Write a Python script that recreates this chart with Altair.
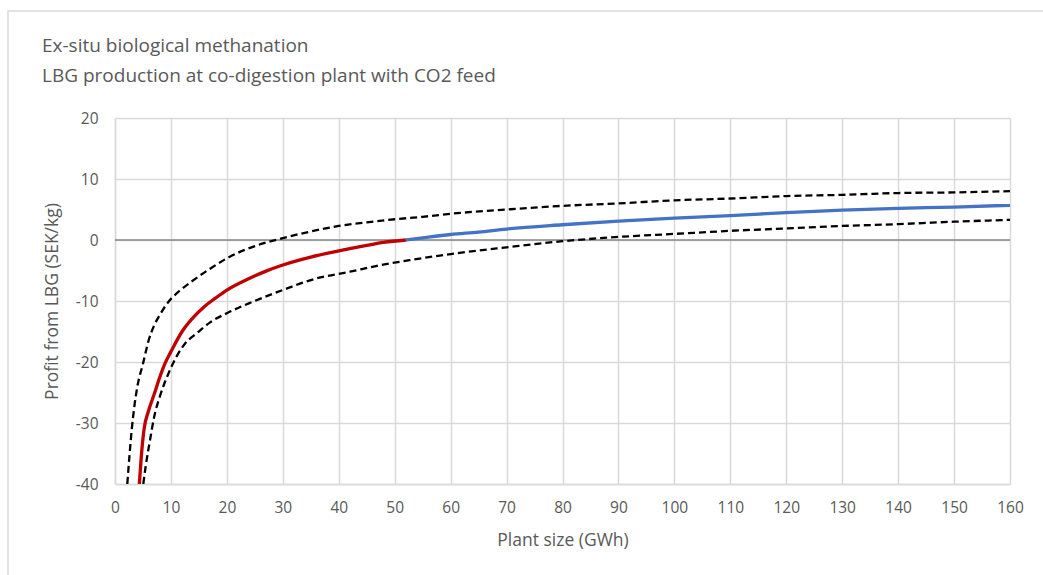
import altair as alt
import pandas as pd

# Upper dashed bound
upper_x = [2.2, 3, 3.5, 4, 5, 6, 7, 8, 9.5, 12, 14, 17, 20, 25, 30, 35, 40, 45, 50, 55, 60, 70, 80, 90, 100, 110, 120, 130, 140, 150, 160]
upper_y = [-40, -31, -27, -24, -20.3, -16.5, -14, -12.3, -10.2, -8, -6.6, -4.7, -3.0, -1.0, 0.3, 1.4, 2.3, 2.9, 3.4, 3.8, 4.3, 5.0, 5.6, 6.0, 6.5, 6.8, 7.2, 7.4, 7.7, 7.8, 8.0]

# Central estimate, loss part (red)
loss_x = [4.35, 4.7, 5.2, 6, 7, 8, 9, 10, 12, 14, 16, 18, 20, 24, 27, 30, 35, 40, 45, 48, 52]
loss_y = [-40, -35.5, -31, -28, -25.3, -22.5, -20.1, -18.3, -15, -12.7, -10.9, -9.5, -8.2, -6.3, -5.1, -4.1, -2.8, -1.8, -0.9, -0.4, 0]

# Central estimate, profit part (blue)
gain_x = [52, 55, 60, 65, 70, 80, 90, 100, 110, 120, 130, 140, 150, 160]
gain_y = [0, 0.35, 0.9, 1.3, 1.8, 2.5, 3.1, 3.6, 4.0, 4.5, 4.9, 5.2, 5.4, 5.7]

# Lower dashed bound
lower_x = [5.06, 5.5, 6.26, 7, 8, 9.5, 11, 12.5, 14.6, 17, 20, 24.7, 30, 36, 42, 47, 52.7, 60, 70, 80, 90, 100, 110, 120, 130, 140, 150, 160]
lower_y = [-40, -37, -32.8, -29, -25.7, -22, -19.1, -17, -15.3, -13.5, -12.0, -10.1, -8.2, -6.3, -5.2, -4.2, -3.3, -2.3, -1.2, -0.2, 0.5, 1.0, 1.5, 1.9, 2.3, 2.6, 3.0, 3.3]

x_ticks = list(range(0, 161, 10))
y_ticks = list(range(-40, 21, 10))

title_line1 = "Ex-situ biological methanation"
title_line2 = "LBG production at co-digestion plant with CO2 feed"

FONT = "Open Sans"
GRAY = "#595959"

xscale = alt.Scale(domain=[0, 160], nice=False, zero=False)
yscale = alt.Scale(domain=[-40, 20], nice=False)

x_axis = alt.Axis(values=x_ticks, title="Plant size (GWh)", grid=True, gridColor="#d9d9d9",
                  gridWidth=1.5, domainColor="#d9d9d9", domainWidth=1.5, ticks=False,
                  labelColor=GRAY, labelFontSize=15.5, labelFont=FONT, labelPadding=16,
                  labelFlush=False, labelOverlap=False,
                  titleColor=GRAY, titleFontSize=17.5, titleFont=FONT, titleFontWeight="normal",
                  titlePadding=16)
y_axis = alt.Axis(values=y_ticks, title="Profit from LBG (SEK/kg)", grid=True, gridColor="#d9d9d9",
                  gridWidth=1.5, domainColor="#d9d9d9", domainWidth=1.5, ticks=False,
                  labelColor=GRAY, labelFontSize=15.5, labelFont=FONT, labelPadding=17,
                  labelFlush=False, labelOverlap=False,
                  labelExpr="'' + datum.value",
                  titleColor=GRAY, titleFontSize=17.5, titleFont=FONT, titleFontWeight="normal",
                  titlePadding=14)


def series_line(xs, ys, color, width, dash=None):
    d = pd.DataFrame({"size": xs, "profit": ys, "order": list(range(len(xs)))})
    kw = dict(color=color, strokeWidth=width, clip=True, interpolate="monotone")
    if dash:
        kw["strokeDash"] = dash
    return alt.Chart(d).mark_line(**kw).encode(
        x=alt.X("size:Q", scale=xscale, axis=x_axis),
        y=alt.Y("profit:Q", scale=yscale, axis=y_axis),
        order="order:Q",
    )


upper = series_line(upper_x, upper_y, "#000000", 2.3, [7, 4])
lower = series_line(lower_x, lower_y, "#000000", 2.3, [7, 4])
loss = series_line(loss_x, loss_y, "#C00000", 3.3)
gain = series_line(gain_x, gain_y, "#4472C4", 3.3)

zero = alt.Chart(pd.DataFrame({"profit": [0]})).mark_rule(color="#868686", strokeWidth=1.5).encode(
    y=alt.Y("profit:Q", scale=yscale, axis=y_axis)
)

border = alt.Chart(pd.DataFrame({"a": [0]})).mark_rect(fill=None, stroke="#d9d9d9", strokeWidth=1.5).encode(
    x=alt.value(-107), x2=alt.value(1000), y=alt.value(-107), y2=alt.value(600)
)


def title_text(line, ypix):
    return alt.Chart(pd.DataFrame({"line": [line]})).mark_text(
        align="left", baseline="alphabetic", font=FONT, fontSize=19, color=GRAY
    ).encode(text="line:N", x=alt.value(-73), y=alt.value(ypix))


t1 = title_text(title_line1, -66)
t2 = title_text(title_line2, -36)

chart = alt.layer(border, zero, upper, lower, loss, gain, t1, t2).properties(
    width=895, height=366,
    padding={"left": 115, "top": 118, "right": 33, "bottom": 91},
    autosize=alt.AutoSizeParams(type="none"),
    background="white",
).configure_view(strokeWidth=0)

chart.save("out.html", embed_options={"renderer": "svg", "actions": False})
